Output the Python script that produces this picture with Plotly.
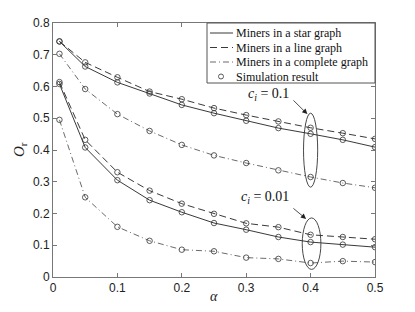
import plotly.graph_objects as go

alpha = [0.01, 0.05, 0.1, 0.15, 0.2, 0.25, 0.3, 0.35, 0.4, 0.45, 0.5]

# c_i = 0.1
star_01 = [0.742, 0.663, 0.613, 0.578, 0.542, 0.516, 0.492, 0.469, 0.451, 0.432, 0.409]
line_01 = [0.742, 0.676, 0.629, 0.584, 0.560, 0.532, 0.510, 0.490, 0.470, 0.453, 0.435]
comp_01 = [0.703, 0.592, 0.513, 0.460, 0.416, 0.383, 0.359, 0.336, 0.315, 0.296, 0.281]
# c_i = 0.01
star_001 = [0.608, 0.408, 0.305, 0.242, 0.204, 0.170, 0.149, 0.126, 0.110, 0.102, 0.094]
line_001 = [0.614, 0.432, 0.330, 0.272, 0.231, 0.199, 0.169, 0.157, 0.133, 0.126, 0.119]
comp_001 = [0.495, 0.251, 0.158, 0.114, 0.086, 0.081, 0.061, 0.057, 0.044, 0.050, 0.047]

legend_names = ["Miners in a star graph", "Miners in a line graph",
                "Miners in a complete graph", "Simulation result"]
x_ticks = [0, 0.1, 0.2, 0.3, 0.4, 0.5]
y_ticks = [0, 0.1, 0.2, 0.3, 0.4, 0.5, 0.6, 0.7, 0.8]

styles = {
    "solid": dict(color="#222222", width=0.9, dash="solid"),
    "dash": dict(color="#222222", width=0.9, dash="7px,4px"),
    "dashdot": dict(color="#444444", width=0.8, dash="6px,3px,1px,3px"),
}
marker_style = dict(symbol="circle-open", size=5.5, color="#333333", line=dict(width=0.8))

fig = go.Figure()
series = [
    (star_01, "solid", 0), (line_01, "dash", 1), (comp_01, "dashdot", 2),
    (star_001, "solid", 0), (line_001, "dash", 1), (comp_001, "dashdot", 2),
]
for ys, st, li in series:
    fig.add_trace(go.Scatter(x=alpha, y=ys, mode="lines", line=styles[st],
                             name=legend_names[li], showlegend=False))
for ys, st, li in series:
    fig.add_trace(go.Scatter(x=alpha, y=ys, mode="markers", marker=marker_style,
                             name=legend_names[3], showlegend=False))

# ---- manual legend (paper coordinates) ----
PW, PH = 322.0, 254.0  # plot area size in px
def px(xp):  # px offset from plot left -> paper x
    return xp / PW
def py(yp):  # px offset from plot top -> paper y
    return 1 - yp / PH

serif = "Liberation Serif"
fig.add_shape(type="rect", xref="paper", yref="paper", x0=px(154), x1=1.0, y0=py(60), y1=1.0,
              line=dict(color="#555555", width=1), fillcolor="white", layer="above")
rows = [10, 24.5, 39, 53.5]
for i, name in enumerate(legend_names):
    yy = py(rows[i])
    if i < 3:
        st = ["solid", "dash", "dashdot"][i]
        fig.add_shape(type="line", xref="paper", yref="paper", x0=px(157), x1=px(180), y0=yy, y1=yy,
                      line=styles[st], layer="above")
    else:
        fig.add_shape(type="circle", xref="paper", yref="paper", xsizemode="pixel", ysizemode="pixel",
                      xanchor=px(168), yanchor=yy, x0=-2.5, x1=2.5, y0=-2.5, y1=2.5,
                      line=dict(color="#333333", width=0.8), layer="above")
    fig.add_annotation(x=px(181), y=yy, xref="paper", yref="paper", xanchor="left", yanchor="middle",
                       text=name, showarrow=False,
                       font=dict(family=serif, size=12, color="#111"))

# ellipses
fig.add_shape(type="circle", xref="x", yref="y", x0=0.389, x1=0.411, y0=0.283, y1=0.516,
              line=dict(color="#333333", width=0.9))
fig.add_shape(type="circle", xref="x", yref="y", x0=0.387, x1=0.416, y0=0.024, y1=0.186,
              line=dict(color="#333333", width=0.9))

fig.add_annotation(x=0.395, y=0.513, xref="x", yref="y", ax=0.371, ay=0.561, axref="x", ayref="y",
                   text="", showarrow=True, arrowhead=2, arrowsize=1.3, arrowwidth=0.8, arrowcolor="#222")
fig.add_annotation(x=0.369, y=0.576, xref="x", yref="y", xanchor="right", yanchor="middle",
                   text="<i>c</i><sub><i>i</i></sub> = 0.1", showarrow=False,
                   font=dict(family=serif, size=14, color="#111"))
fig.add_annotation(x=0.393, y=0.183, xref="x", yref="y", ax=0.371, ay=0.220, axref="x", ayref="y",
                   text="", showarrow=True, arrowhead=2, arrowsize=1.3, arrowwidth=0.8, arrowcolor="#222")
fig.add_annotation(x=0.369, y=0.249, xref="x", yref="y", xanchor="right", yanchor="middle",
                   text="<i>c</i><sub><i>i</i></sub> = 0.01", showarrow=False,
                   font=dict(family=serif, size=14, color="#111"))

# axis titles
fig.add_annotation(x=0.5, y=py(PH + 19), xref="paper", yref="paper", xanchor="center", yanchor="middle",
                   text="<i>α</i>", showarrow=False, font=dict(family=serif, size=14, color="#222"))
fig.add_annotation(x=px(-33), y=0.5, xref="paper", yref="paper", xanchor="center", yanchor="middle",
                   text="<i>O</i><sub>r</sub>", showarrow=False, textangle=-90,
                   font=dict(family=serif, size=15, color="#222"))

axis_common = dict(showline=True, linecolor="#777777", linewidth=1, mirror="allticks",
                   ticks="inside", ticklen=4, tickcolor="#777777", showgrid=False, zeroline=False,
                   automargin=False,
                   tickfont=dict(family="Liberation Sans", size=12, color="#222"))
fig.update_xaxes(range=[0, 0.5], tickvals=x_ticks, ticktext=[str(v) for v in x_ticks], **axis_common)
fig.update_yaxes(range=[0, 0.8], tickvals=y_ticks, ticktext=[str(v) for v in y_ticks], **axis_common)

# page body has an 8px margin: figure placed so plot area spans x 53-375, y 23-277 of the window
fig.update_layout(
    width=407, height=304, margin=dict(l=45, r=40, t=15, b=35, autoexpand=False),
    paper_bgcolor="white", plot_bgcolor="white",
    showlegend=False,
)
fig.write_html("out.html")
